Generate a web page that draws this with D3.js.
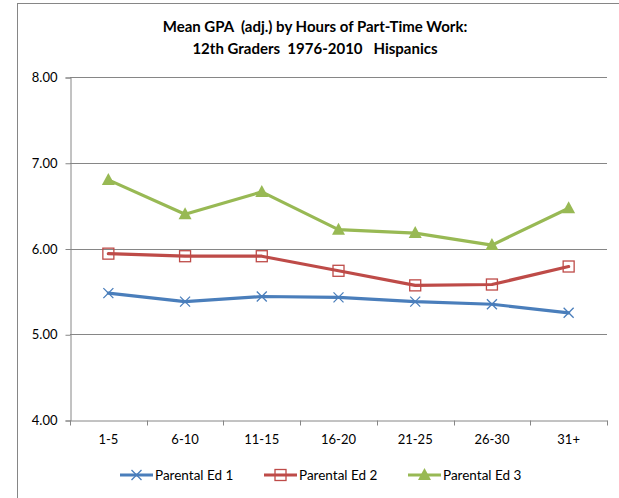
<!DOCTYPE html>
<html>
<head>
<meta charset="utf-8">
<script src="https://cdn.jsdelivr.net/npm/d3@7"></script>
<style>
  body { margin: 0; background: #fff; }
  svg text { font-family: Lato, "Open Sans", sans-serif; fill: #000; }
</style>
</head>
<body>
<div id="chart"></div>
<script>
var categories = ["1-5", "6-10", "11-15", "16-20", "21-25", "26-30", "31+"];
var ed1 = [5.48, 5.38, 5.44, 5.43, 5.38, 5.35, 5.25];
var ed2 = [5.94, 5.91, 5.91, 5.74, 5.57, 5.58, 5.79];
var ed3 = [6.80, 6.40, 6.66, 6.22, 6.18, 6.04, 6.47];
var yTicks = [4, 5, 6, 7, 8];
var seriesNames = ["Parental Ed 1", "Parental Ed 2", "Parental Ed 3"];

var width = 619, height = 498;
var margin = { left: 70, right: 12, top: 77, bottom: 78 };

var series = [
    { name: seriesNames[0], values: ed1, color: "#4a7ebb", marker: "x" },
    { name: seriesNames[1], values: ed2, color: "#be4b48", marker: "square" },
    { name: seriesNames[2], values: ed3, color: "#98b954", marker: "triangle" }
];

var svg = d3.select("#chart").append("svg")
    .attr("width", width)
    .attr("height", height);

// chart frame
svg.append("rect")
    .attr("x", 17.5).attr("y", 3.5)
    .attr("width", 620).attr("height", 520)
    .attr("fill", "none")
    .attr("stroke", "#868686");

var x = d3.scaleBand()
    .domain(categories)
    .range([margin.left, width - margin.right]);

var y = d3.scaleLinear()
    .domain([4, 8])
    .range([height - margin.bottom, margin.top]);

// title (keep the double spaces)
var title = svg.append("text")
    .attr("x", 315)
    .attr("text-anchor", "middle")
    .style("white-space", "pre")
    .style("font-weight", "bold")
    .style("font-size", "15px");
title.append("tspan").attr("x", 315).attr("y", 32).text("Mean GPA  (adj.) by Hours of Part-Time Work:");
title.append("tspan").attr("x", 315).attr("y", 54).text("12th Graders  1976-2010   Hispanics");

// gridlines
svg.append("g")
    .selectAll("line")
    .data(yTicks.slice(1))
    .enter().append("line")
    .attr("x1", margin.left).attr("x2", width - margin.right)
    .attr("y1", function (d) { return Math.round(y(d)) + 0.5; })
    .attr("y2", function (d) { return Math.round(y(d)) + 0.5; })
    .attr("stroke", "#868686");

// y axis
var yAxis = svg.append("g")
    .attr("transform", "translate(" + (margin.left + 0.5) + ",0.5)")
    .call(d3.axisLeft(y).tickValues(yTicks).tickFormat(d3.format(".2f")).tickSize(5).tickPadding(8));
yAxis.selectAll("text").style("font-size", "13px");

// x axis, ticks on category boundaries
var xAxis = svg.append("g")
    .attr("transform", "translate(0," + (Math.round(y(4)) + 0.5) + ")")
    .call(d3.axisBottom(x).tickSize(0).tickPadding(14));
xAxis.selectAll("text").style("font-size", "13px");
xAxis.selectAll(".boundary")
    .data(categories.map(function (c) { return x(c); }).concat([x.range()[1]]))
    .enter().append("line")
    .attr("class", "boundary")
    .attr("x1", function (d) { return Math.round(d) + 0.5; })
    .attr("x2", function (d) { return Math.round(d) + 0.5; })
    .attr("y1", 0).attr("y2", 5);
svg.selectAll(".domain, .tick line, .boundary").attr("stroke", "#868686");

function drawMarker(g, type, color) {
    if (type === "x") {
        g.append("path").attr("d", "M-5,-5L5,5M-5,5L5,-5")
            .attr("stroke", color).attr("stroke-width", 1.3).attr("fill", "none");
    } else if (type === "square") {
        g.append("rect").attr("x", -5.5).attr("y", -5.5).attr("width", 11).attr("height", 11)
            .attr("stroke", color).attr("stroke-width", 1.3).attr("fill", "none");
    } else {
        g.append("path").attr("d", "M0,-7L6.5,5L-6.5,5Z").attr("fill", color);
    }
}

var line = d3.line()
    .x(function (d, i) { return x(categories[i]) + x.bandwidth() / 2; })
    .y(function (d) { return y(d); });

series.forEach(function (s) {
    svg.append("path")
        .datum(s.values)
        .attr("d", line)
        .attr("fill", "none")
        .attr("stroke", s.color)
        .attr("stroke-width", 3.2)
        .attr("stroke-linejoin", "round")
        .attr("stroke-linecap", "round");
    s.values.forEach(function (v, i) {
        var g = svg.append("g")
            .attr("transform", "translate(" + (x(categories[i]) + x.bandwidth() / 2) + "," + y(v) + ")");
        drawMarker(g, s.marker, s.color);
    });
});

// legend
var legendX = [120, 264, 408];
series.forEach(function (s, i) {
    var lg = svg.append("g").attr("transform", "translate(" + legendX[i] + ",475)");
    lg.append("line").attr("x1", 0).attr("x2", 33).attr("y1", 0).attr("y2", 0)
        .attr("stroke", s.color).attr("stroke-width", 3.2);
    var m = lg.append("g").attr("transform", "translate(16.5,0)");
    drawMarker(m, s.marker, s.color);
    lg.append("text").attr("x", 35).attr("y", 5)
        .style("font-size", "13.5px")
        .text(s.name);
});
</script>
</body>
</html>
